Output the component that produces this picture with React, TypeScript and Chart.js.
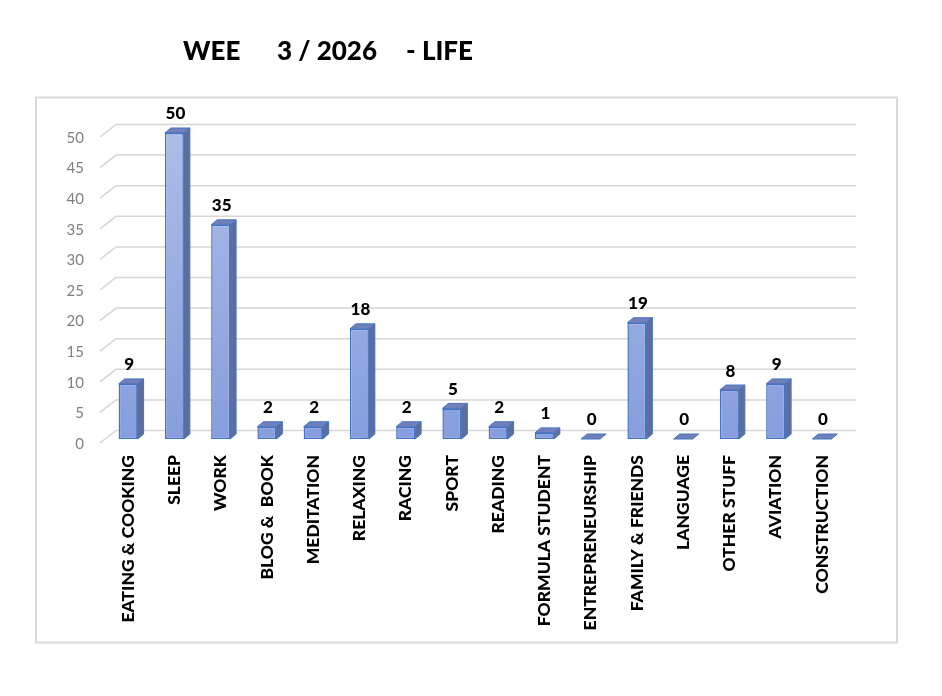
import React, { useEffect, useRef } from "react";
import { Chart, registerables } from "chart.js";

Chart.register(...registerables);

const categories = [
  "EATING & COOKING",
  "SLEEP",
  "WORK",
  "BLOG &  BOOK",
  "MEDITATION",
  "RELAXING",
  "RACING",
  "SPORT",
  "READING",
  "FORMULA STUDENT",
  "ENTREPRENEURSHIP",
  "FAMILY & FRIENDS",
  "LANGUAGE",
  "OTHER STUFF",
  "AVIATION",
  "CONSTRUCTION",
];
const hours = [9, 50, 35, 2, 2, 18, 2, 5, 2, 1, 0, 19, 0, 8, 9, 0];
const yTickValues = [0, 5, 10, 15, 20, 25, 30, 35, 40, 45, 50];
const titleParts = ["WEE", "3 / 2026", "- LIFE"];

const FONT = "Lato, 'Liberation Sans', sans-serif";
const DX = 6;
const DY = 5;

const decorPlugin = {
  id: "decor",
  beforeDraw(chart: any) {
    const c = chart.ctx;
    c.save();
    c.fillStyle = "#ffffff";
    c.fillRect(0, 0, chart.width, chart.height);
    // outer border
    c.strokeStyle = "#d9d9d9";
    c.lineWidth = 2;
    c.strokeRect(36, 97.5, 861, 545);
    // title
    c.fillStyle = "#000000";
    c.font = `900 26px ${FONT}`;
    c.textBaseline = "alphabetic";
    c.textAlign = "left";
    c.fillText(titleParts[0], 183, 60);
    c.fillText(titleParts[1], 277, 60);
    c.fillText(titleParts[2], 406, 60);
    c.restore();
  },
  beforeDatasetsDraw(chart: any) {
    const c = chart.ctx;
    const y = chart.scales.y;
    const area = chart.chartArea;
    c.save();
    c.strokeStyle = "#d6d6d6";
    c.lineWidth = 1.5;
    const fx = area.left - 5;
    const bx = area.left + 11;
    const rx = area.right + 11;
    for (const v of yTickValues) {
      const py = y.getPixelForValue(v);
      c.beginPath();
      c.moveTo(fx, py + 4);
      c.lineTo(bx, py - 8.5);
      c.lineTo(rx, py - 8.5);
      c.stroke();
    }
    c.restore();
  },
  afterDatasetsDraw(chart: any) {
    const c = chart.ctx;
    const meta = chart.getDatasetMeta(0);
    c.save();
    meta.data.forEach((bar: any, i: number) => {
      const { x, y, base, width } = bar.getProps(["x", "y", "base", "width"], true);
      const l = x - width / 2;
      const r = x + width / 2;
      c.lineWidth = 1;
      c.strokeStyle = "#4472c4";
      // side face
      if (base - y > 0.5) {
        c.beginPath();
        c.moveTo(r, y);
        c.lineTo(r + DX, y - DY);
        c.lineTo(r + DX, base - DY);
        c.lineTo(r, base);
        c.closePath();
        c.fillStyle = "#5d6d9c";
        c.fill();
        c.stroke();
      }
      // top face
      c.beginPath();
      c.moveTo(l, y);
      c.lineTo(l + DX, y - DY);
      c.lineTo(r + DX, y - DY);
      c.lineTo(r, y);
      c.closePath();
      c.fillStyle = "#7181b8";
      c.fill();
      c.stroke();
      // value label
      c.fillStyle = "#000000";
      c.font = `900 17px ${FONT}`;
      c.textAlign = "center";
      c.textBaseline = "middle";
      c.fillText(String(hours[i]), x + 1, y - 19);
    });
    c.restore();
  },
};

export default function App() {
  const ref = useRef<HTMLCanvasElement | null>(null);

  useEffect(() => {
    if (!ref.current) return;
    const chart = new Chart(ref.current, {
      type: "bar",
      data: {
        labels: categories,
        datasets: [
          {
            data: hours,
            backgroundColor: (ctx: any) => {
              const ch = ctx.chart;
              const a = ch.chartArea;
              if (!a) return "#98abe0";
              const g = ch.ctx.createLinearGradient(0, a.top, 0, a.bottom);
              g.addColorStop(0, "#adbce8");
              g.addColorStop(1, "#869edd");
              return g;
            },
            borderColor: "#4472c4",
            borderWidth: 1.5,
            borderSkipped: false,
            barPercentage: 0.41,
            categoryPercentage: 1,
          },
        ],
      },
      options: {
        responsive: false,
        animation: false,
        layout: { padding: { top: 133, left: 0, right: 97, bottom: 0 } },
        plugins: {
          legend: { display: false },
          title: { display: false },
          tooltip: { enabled: false },
        },
        scales: {
          x: {
            grid: { display: false, drawTicks: false },
            border: { display: false },
            ticks: {
              color: "#000000",
              font: { family: FONT, size: 17.5, weight: "900" },
              minRotation: 90,
              maxRotation: 90,
              padding: 16,
              autoSkip: false,
            },
            afterFit: (s: any) => {
              s.height = 257;
            },
          },
          y: {
            min: 0,
            max: 50,
            grid: { display: false, drawTicks: false },
            border: { display: false },
            ticks: {
              color: "#7f7f7f",
              font: { family: FONT, size: 15 },
              padding: 21,
              labelOffset: 5,
            },
            afterBuildTicks: (s: any) => {
              s.ticks = yTickValues.map((v) => ({ value: v }));
            },
            afterFit: (s: any) => {
              s.width = 105;
            },
          },
        },
      },
      plugins: [decorPlugin],
    });
    return () => chart.destroy();
  }, []);

  return (
    <div style={{ position: "absolute", left: 0, top: 0, width: 942, height: 696 }}>
      <canvas ref={ref} width={942} height={696} style={{ display: "block" }} />
    </div>
  );
}
